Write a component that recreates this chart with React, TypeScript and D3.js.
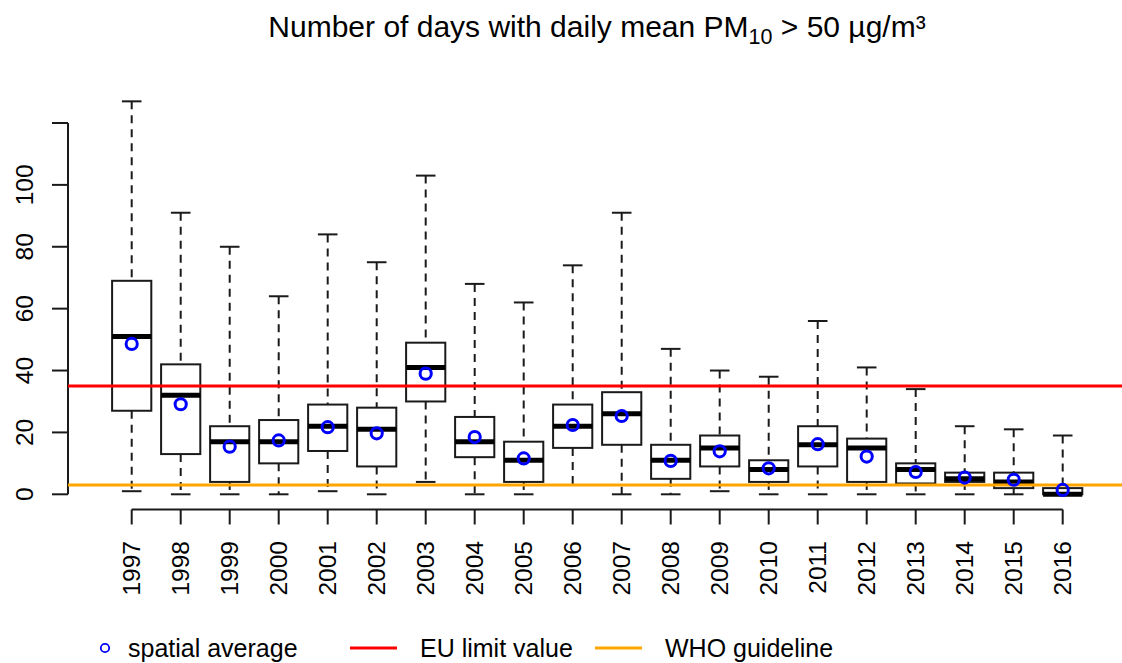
import React from "react";
import * as d3 from "d3";

const years = ["1997","1998","1999","2000","2001","2002","2003","2004","2005","2006","2007","2008","2009","2010","2011","2012","2013","2014","2015","2016"];
const whiskerHigh = [127, 91, 80, 64, 84, 75, 103, 68, 62, 74, 91, 47, 40, 38, 56, 41, 34, 22, 21, 19];
const q3 = [69, 42, 22, 24, 29, 28, 49, 25, 17, 29, 33, 16, 19, 11, 22, 18, 10, 7, 7, 2];
const median = [51, 32, 17, 17, 22, 21, 41, 17, 11, 22, 26, 11, 15, 8, 16, 15, 8, 5, 4, 0];
const q1 = [27, 13, 4, 10, 14, 9, 30, 12, 4, 15, 16, 5, 9, 4, 9, 4, 3.5, 4, 2, 0];
const whiskerLow = [1, 0, 0, 0, 1, 0, 4, 0, 0, 3, 0, 0, 1, 0, 0, 0, 0, 0, 0, 0];
const spatialMean = [48.6, 29.1, 15.4, 17.4, 21.7, 19.7, 39, 18.5, 11.6, 22.4, 25.3, 10.8, 13.9, 8.4, 16.2, 12.2, 7.2, 5.4, 4.7, 1.4];
const yTicks = [0, 20, 40, 60, 80, 100, 120];
const yTickLabels = ["0", "20", "40", "60", "80", "100", ""];
const euLimit = 35;
const whoGuideline = 3;
const legendLabels = ["spatial average", "EU limit value", "WHO guideline"];

const W = 1122;
const H = 663;
const FONT = "'Liberation Sans', Arial, Helvetica, sans-serif";

export default function App() {
  const x = d3.scaleBand<string>().domain(years).range([107.2, 1087.2]).padding(0);
  const y = d3.scaleLinear().domain([0, 120]).range([494.3, 123]);
  const bw = x.bandwidth();
  const boxW = bw * 0.8;
  const capW = boxW * 0.5;
  const cx = (yr: string) => (x(yr) as number) + bw / 2;
  const axisX = 68;
  const axisY = 509.5;
  const col = "#1a1a1a";

  return (
    <svg width={W} height={H} style={{ position: "absolute", left: 0, top: 0, background: "#fff" }} fontFamily={FONT}>
      <rect x={0} y={0} width={W} height={H} fill="#fff" />
      {/* title */}
      <text x={597} y={37} fontSize={30} textAnchor="middle" fill="#000">
        Number of days with daily mean PM
        <tspan fontSize={21.5} dy={7}>10</tspan>
        <tspan dy={-7}> &gt; 50 µg/m³</tspan>
      </text>

      {/* y axis */}
      <line x1={axisX} x2={axisX} y1={y(0)} y2={y(120)} stroke={col} strokeWidth={2} />
      {yTicks.map((t, i) => (
        <g key={"yt" + t}>
          <line x1={axisX - 16} x2={axisX} y1={y(t)} y2={y(t)} stroke={col} strokeWidth={2} />
          <text
            transform={`translate(24,${y(t)}) rotate(-90)`}
            textAnchor="middle"
            dominantBaseline="central"
            fontSize={24.5}
            fill="#000"
          >
            {yTickLabels[i]}
          </text>
        </g>
      ))}

      {/* x axis */}
      <line x1={cx(years[0])} x2={cx(years[years.length - 1])} y1={axisY} y2={axisY} stroke={col} strokeWidth={2} />
      {years.map((yr) => (
        <g key={"xt" + yr}>
          <line x1={cx(yr)} x2={cx(yr)} y1={axisY} y2={axisY + 15} stroke={col} strokeWidth={2} />
          <text
            transform={`translate(${cx(yr)},541) rotate(-90)`}
            textAnchor="end"
            dominantBaseline="central"
            fontSize={24.5}
            fill="#000"
          >
            {yr}
          </text>
        </g>
      ))}

      {/* boxes */}
      {years.map((yr, i) => {
        const c = cx(yr);
        return (
          <g key={"b" + yr}>
            <line x1={c} x2={c} y1={y(whiskerHigh[i])} y2={y(q3[i])} stroke={col} strokeWidth={2} strokeDasharray="8,6" />
            <line x1={c} x2={c} y1={y(q1[i])} y2={y(whiskerLow[i])} stroke={col} strokeWidth={2} strokeDasharray="8,6" />
            <line x1={c - capW / 2} x2={c + capW / 2} y1={y(whiskerHigh[i])} y2={y(whiskerHigh[i])} stroke={col} strokeWidth={2} />
            <line x1={c - capW / 2} x2={c + capW / 2} y1={y(whiskerLow[i])} y2={y(whiskerLow[i])} stroke={col} strokeWidth={2} />
            <rect x={c - boxW / 2} y={y(q3[i])} width={boxW} height={y(q1[i]) - y(q3[i])} fill="#fff" stroke={col} strokeWidth={2} />
            <line x1={c - boxW / 2} x2={c + boxW / 2} y1={y(median[i])} y2={y(median[i])} stroke="#000" strokeWidth={5} />
          </g>
        );
      })}

      {/* reference lines */}
      <line x1={axisX} x2={W} y1={y(euLimit)} y2={y(euLimit)} stroke="#ff0000" strokeWidth={3} />
      <line x1={axisX} x2={W} y1={y(whoGuideline)} y2={y(whoGuideline)} stroke="#ffa500" strokeWidth={3} />

      {/* means */}
      {years.map((yr, i) => (
        <circle key={"m" + yr} cx={cx(yr)} cy={y(spatialMean[i])} r={5.6} fill="none" stroke="#0000ff" strokeWidth={3} />
      ))}

      {/* legend */}
      <circle cx={105} cy={648} r={4.2} fill="none" stroke="#0000ff" strokeWidth={1.8} />
      <text x={128} y={657} fontSize={25} fill="#000">{legendLabels[0]}</text>
      <line x1={350} x2={397} y1={648} y2={648} stroke="#ff0000" strokeWidth={3} />
      <text x={420} y={657} fontSize={25} fill="#000">{legendLabels[1]}</text>
      <line x1={595} x2={642} y1={648} y2={648} stroke="#ffa500" strokeWidth={3} />
      <text x={665} y={657} fontSize={25} fill="#000">{legendLabels[2]}</text>
    </svg>
  );
}
